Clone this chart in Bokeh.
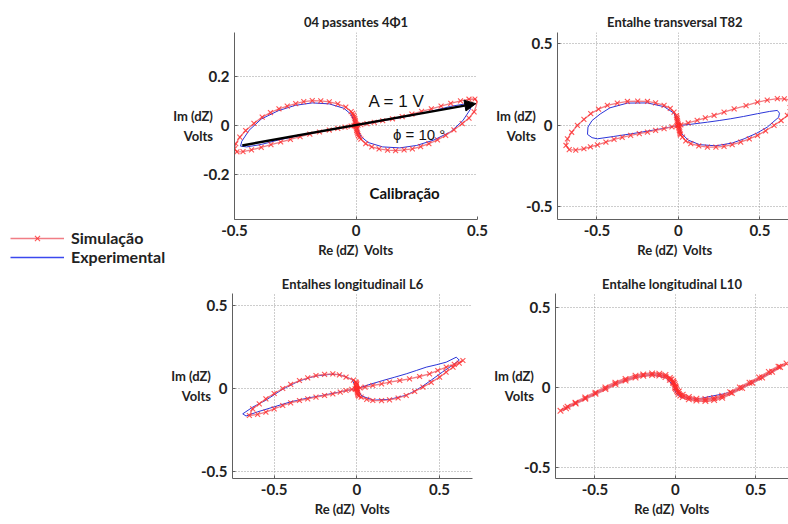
from bokeh.plotting import figure
from bokeh.layouts import row, column, Spacer
from bokeh.models import Legend, LegendItem, Arrow, NormalHead, Label, FixedTicker, Range1d
from bokeh.embed import file_html
from bokeh.resources import INLINE

# ---------------- data ----------------
titles = ["04 passantes 4\u03a61", "Entalhe transversal T82",
          "Entalhes longitudinail L6", "Entalhe longitudinal L10"]
x_label = "Re (dZ)\u00a0 Volts"
y_label = "Im (dZ)\nVolts"
x_ticks = [-0.5, 0, 0.5]
x_tick_labels = ["-0.5", "0", "0.5"]
y_ticks_cal = [-0.2, 0, 0.2]
y_tick_labels_cal = ["-0.2", "0", "0.2"]
y_ticks = [-0.5, 0, 0.5]
y_tick_labels = ["-0.5", "0", "0.5"]

# panel 1 : calibration (04 passantes)
sim1_re = [0.0, -0.001, -0.002, -0.003, -0.005, -0.007, -0.01, -0.014, -0.02, -0.042, -0.075, -0.11,
           -0.145, -0.18, -0.215, -0.248, -0.283, -0.317, -0.352, -0.386, -0.42, -0.454, -0.478, -0.495,
           -0.5, -0.49, -0.465, -0.43, -0.39, -0.35, -0.31, -0.27, -0.23, -0.19, -0.15, -0.11, -0.075,
           -0.045, -0.02, -0.008, 0.0,
           0.001, 0.002, 0.003, 0.005, 0.007, 0.01, 0.014, 0.02, 0.04, 0.065, 0.095, 0.13, 0.163, 0.198,
           0.232, 0.266, 0.3, 0.335, 0.369, 0.403, 0.437, 0.465, 0.486, 0.5, 0.49, 0.465, 0.43, 0.39, 0.35,
           0.31, 0.27, 0.23, 0.19, 0.15, 0.11, 0.075, 0.045, 0.02, 0.008, 0.0]
sim1_im = [0.0, 0.007, 0.014, 0.021, 0.028, 0.035, 0.042, 0.049, 0.056, 0.075, 0.088, 0.096,
           0.1, 0.101, 0.097, 0.089, 0.079, 0.068, 0.052, 0.034, 0.008, -0.021, -0.048, -0.075,
           -0.096, -0.108, -0.107, -0.1, -0.09, -0.079, -0.068, -0.057, -0.046, -0.036, -0.027, -0.019,
           -0.012, -0.007, -0.003, -0.001, 0.0,
           -0.007, -0.014, -0.021, -0.028, -0.035, -0.042, -0.049, -0.056, -0.075, -0.088, -0.096, -0.101,
           -0.103, -0.1, -0.096, -0.087, -0.075, -0.059, -0.041, -0.018, 0.007, 0.03, 0.055, 0.096, 0.108,
           0.107, 0.1, 0.09, 0.079, 0.068, 0.057, 0.046, 0.036, 0.027, 0.019, 0.012, 0.007, 0.003, 0.001, 0.0]
exp1_re = [0.0, -0.02, -0.05, -0.11, -0.18, -0.25, -0.32, -0.39, -0.44, -0.47, -0.475, -0.45, -0.39,
           -0.32, -0.25, -0.18, -0.11, -0.05, 0.0, 0.02, 0.05, 0.11, 0.18, 0.25, 0.32, 0.39, 0.44, 0.47,
           0.475, 0.45, 0.39, 0.32, 0.25, 0.18, 0.11, 0.05, 0.0]
exp1_im = [0.0, 0.045, 0.07, 0.088, 0.092, 0.082, 0.06, 0.026, -0.02, -0.065, -0.085, -0.088, -0.078,
           -0.06, -0.045, -0.031, -0.019, -0.008, 0.0, -0.045, -0.07, -0.088, -0.092, -0.082, -0.06, -0.026,
           0.02, 0.065, 0.085, 0.088, 0.078, 0.06, 0.045, 0.031, 0.019, 0.008, 0.0]

# panel 2 : transversal notch T82
sim2_re = [0.0, -0.002, -0.004, -0.006, -0.008, -0.01, -0.012, -0.027, -0.05, -0.088, -0.14, -0.19,
           -0.25, -0.313, -0.375, -0.436, -0.49, -0.538, -0.58, -0.62, -0.655, -0.681, -0.69, -0.67, -0.63,
           -0.58, -0.54, -0.497, -0.445, -0.395, -0.345, -0.293, -0.24, -0.19, -0.14, -0.088, -0.04, -0.01,
           0.0,
           0.002, 0.004, 0.006, 0.008, 0.01, 0.012, 0.025, 0.045, 0.076, 0.125, 0.178, 0.23, 0.28, 0.33,
           0.382, 0.435, 0.485, 0.535, 0.587, 0.63, 0.669, 0.685, 0.689, 0.65, 0.607, 0.545, 0.485, 0.415,
           0.342, 0.28, 0.219, 0.165, 0.115, 0.06, 0.015, 0.0]
sim2_im = [0.0, 0.01, 0.02, 0.03, 0.04, 0.05, 0.06, 0.082, 0.105, 0.123, 0.138, 0.147,
           0.149, 0.147, 0.137, 0.123, 0.1, 0.072, 0.037, 0.0, -0.042, -0.082, -0.123, -0.148, -0.152,
           -0.143, -0.131, -0.119, -0.102, -0.086, -0.073, -0.061, -0.05, -0.041, -0.03, -0.02, -0.009,
           -0.003, 0.0,
           -0.01, -0.02, -0.03, -0.04, -0.05, -0.058, -0.072, -0.095, -0.112, -0.126, -0.133, -0.133, -0.129,
           -0.118, -0.102, -0.083, -0.061, -0.033, 0.0, 0.03, 0.061, 0.11, 0.153, 0.163, 0.164, 0.155, 0.143,
           0.122, 0.102, 0.082, 0.061, 0.046, 0.031, 0.015, 0.004, 0.0]
exp2_re = [0.0, -0.027, -0.088, -0.19, -0.313, -0.42, -0.48, -0.53, -0.555, -0.558, -0.53, -0.497,
           -0.4, -0.293, -0.19, -0.09, 0.0, 0.06, 0.178, 0.25, 0.321, 0.4, 0.485, 0.56, 0.607, 0.62, 0.615,
           0.58, 0.546, 0.48, 0.403, 0.33, 0.23, 0.13, 0.06, 0.02, 0.0]
exp2_im = [0.0, 0.075, 0.115, 0.138, 0.137, 0.108, 0.07, 0.03, -0.01, -0.055, -0.075, -0.082,
           -0.068, -0.052, -0.035, -0.018, 0.0, 0.005, 0.02, 0.03, 0.041, 0.055, 0.072, 0.086, 0.092, 0.075,
           0.05, 0.02, -0.01, -0.048, -0.082, -0.108, -0.125, -0.118, -0.09, -0.05, 0.0]

# panel 3 : longitudinal notches L6
sim3_re = [0.0, -0.002, -0.003, -0.002, 0.0, -0.003, -0.006, -0.02, -0.065, -0.105, -0.145, -0.195,
           -0.247, -0.297, -0.347, -0.4, -0.448, -0.5, -0.55, -0.59, -0.63, -0.65, -0.6, -0.55, -0.5,
           -0.448, -0.4, -0.347, -0.297, -0.247, -0.195, -0.145, -0.1, -0.065, -0.03, -0.01, 0.0,
           0.002, 0.003, 0.004, 0.005, 0.008, 0.012, 0.026, 0.06, 0.097, 0.15, 0.198, 0.25, 0.299, 0.35,
           0.4, 0.45, 0.501, 0.54, 0.582, 0.62, 0.642, 0.59, 0.541, 0.49, 0.44, 0.38, 0.319, 0.26, 0.198,
           0.15, 0.097, 0.05, 0.02, 0.0]
sim3_im = [0.0, 0.008, 0.015, 0.022, 0.028, 0.034, 0.04, 0.05, 0.068, 0.082, 0.088, 0.085,
           0.078, 0.064, 0.048, 0.025, 0.0, -0.03, -0.062, -0.092, -0.122, -0.162, -0.155, -0.142, -0.122,
           -0.102, -0.086, -0.072, -0.062, -0.052, -0.042, -0.032, -0.022, -0.012, -0.005, -0.002, 0.0,
           -0.008, -0.016, -0.024, -0.032, -0.04, -0.046, -0.052, -0.065, -0.072, -0.073, -0.068, -0.057,
           -0.042, -0.018, 0.008, 0.037, 0.068, 0.098, 0.128, 0.152, 0.168, 0.145, 0.128, 0.108, 0.088,
           0.072, 0.058, 0.048, 0.038, 0.028, 0.018, 0.008, 0.003, 0.0]
exp3_re = [0.0, 0.02, 0.08, 0.158, 0.23, 0.299, 0.36, 0.42, 0.48, 0.541, 0.602, 0.62, 0.58, 0.52, 0.45,
           0.4, 0.35, 0.3, 0.2, 0.1, 0.03, 0.0, -0.03, -0.1, -0.15, -0.25, -0.35, -0.45, -0.55, -0.63, -0.69,
           -0.67, -0.6, -0.5, -0.4, -0.3, -0.2, -0.1, 0.0]
exp3_im = [0.0, 0.005, 0.025, 0.048, 0.068, 0.088, 0.108, 0.128, 0.142, 0.158, 0.188, 0.17, 0.14, 0.1,
           0.05, 0.015, -0.015, -0.04, -0.065, -0.07, -0.045, 0.0, 0.055, 0.082, 0.086, 0.075, 0.045, -0.005,
           -0.07, -0.112, -0.152, -0.165, -0.14, -0.11, -0.08, -0.058, -0.04, -0.02, 0.0]

# panel 4 : longitudinal notch L10
sim4_re = [0.0, -0.002, -0.005, -0.01, -0.015, -0.025, -0.035, -0.062, -0.1, -0.145, -0.2, -0.248,
           -0.31, -0.373, -0.435, -0.497, -0.56, -0.621, -0.67, -0.714, -0.68, -0.62, -0.56, -0.497,
           -0.435, -0.373, -0.31, -0.248, -0.2, -0.145, -0.1, -0.062, -0.035, -0.015, 0.0,
           0.004, 0.01, 0.015, 0.021, 0.03, 0.045, 0.083, 0.13, 0.186, 0.24, 0.29, 0.35, 0.414, 0.476,
           0.538, 0.6, 0.65, 0.69, 0.64, 0.58, 0.52, 0.46, 0.4, 0.34, 0.29, 0.24, 0.186, 0.13, 0.083, 0.045,
           0.021, 0.0]
sim4_im = [0.0, 0.01, 0.02, 0.03, 0.04, 0.05, 0.06, 0.078, 0.086, 0.088, 0.082, 0.073,
           0.053, 0.03, 0.0, -0.032, -0.063, -0.095, -0.12, -0.146, -0.13, -0.1, -0.07, -0.04, -0.01,
           0.02, 0.043, 0.062, 0.073, 0.078, 0.075, 0.065, 0.048, 0.03, 0.0,
           -0.01, -0.02, -0.03, -0.04, -0.05, -0.06, -0.074, -0.082, -0.084, -0.078, -0.064, -0.035, -0.003,
           0.03, 0.062, 0.098, 0.128, 0.15, 0.13, 0.097, 0.062, 0.03, 0.0, -0.03, -0.052, -0.066, -0.072,
           -0.07, -0.06, -0.045, -0.025, 0.0]
exp4_re = [0.0, -0.02, -0.06, -0.145, -0.248, -0.373, -0.497, -0.621, -0.7, -0.62, -0.497, -0.373,
           -0.248, -0.145, -0.06, -0.01, 0.0, 0.03, 0.083, 0.15, 0.22, 0.3, 0.38, 0.414, 0.476, 0.538, 0.6,
           0.65, 0.6, 0.5, 0.414, 0.35, 0.25, 0.15, 0.08, 0.02, 0.0]
exp4_im = [0.0, 0.05, 0.072, 0.082, 0.068, 0.025, -0.036, -0.098, -0.14, -0.1, -0.04, 0.022, 0.064,
           0.08, 0.06, 0.01, -0.03, -0.06, -0.07, -0.07, -0.055, -0.04, -0.015, 0.005, 0.035, 0.065, 0.1,
           0.13, 0.095, 0.04, -0.003, -0.035, -0.068, -0.078, -0.07, -0.04, 0.0]

# calibration annotations
arrow_start = (-0.468, -0.082)
arrow_end = (0.493, 0.089)
amp_text, amp_pos = "A = 1 V", (0.167, 0.099)
phase_text, phase_pos = "\u03d5 = 10 \u00b0", (0.26, -0.037)
cal_text, cal_pos = "Calibra\u00e7\u00e3o", (0.2, -0.277)
legend_labels = ["Simula\u00e7\u00e3o", "Experimental"]
legend_proxy = [float("nan")]   # legend samples only, nothing plotted

# ---------------- styling ----------------
FONT = "Lato"
SIM_LINE = "#ef6f78"
SIM_MARK = "#ff2a2a"
EXP_LINE = "#2b35d8"


def make_fig(fw, fh, xr, yr, yt, ytl, bl, br, bt, bb, title, title_standoff):
    p = figure(frame_width=fw, frame_height=fh, x_range=Range1d(*xr), y_range=Range1d(*yr),
               output_backend="svg", toolbar_location=None, title=title,
               min_border_left=bl, min_border_right=br, min_border_top=bt, min_border_bottom=bb)
    p.outline_line_color = None
    p.background_fill_color = "white"
    p.title.align = "center"
    p.title.text_font = FONT
    p.title.text_font_size = "13px"
    p.title.text_font_style = "bold"
    p.title.text_color = "#222222"
    p.title.standoff = title_standoff
    p.xaxis.ticker = FixedTicker(ticks=x_ticks)
    p.yaxis.ticker = FixedTicker(ticks=yt)
    p.xaxis.major_label_overrides = {t: l for t, l in zip(x_ticks, x_tick_labels)}
    p.yaxis.major_label_overrides = {t: l for t, l in zip(yt, ytl)}
    for ax in (p.xaxis, p.yaxis):
        ax.axis_line_color = "#606060"
        ax.major_tick_line_color = "#606060"
        ax.major_tick_in = 3
        ax.major_tick_out = 0
        ax.minor_tick_line_color = None
        ax.major_label_text_font = FONT
        ax.major_label_text_font_size = "15px"
        ax.major_label_text_font_style = "bold"
        ax.major_label_text_color = "#222222"
        ax.axis_label_text_font = FONT
        ax.axis_label_text_font_size = "13px"
        ax.axis_label_text_font_style = "bold"
        ax.axis_label_text_color = "#222222"
    p.xaxis.major_label_standoff = 5
    p.yaxis.major_label_standoff = 5
    p.xaxis.axis_label = x_label
    p.xaxis.axis_label_standoff = 3
    p.yaxis.axis_label = y_label
    p.yaxis.axis_label_orientation = "horizontal"
    p.yaxis.axis_label_standoff = -13
    for g in (p.xgrid, p.ygrid):
        g.grid_line_color = "#9a9a9a"
        g.grid_line_dash = "1 2"
        g.grid_line_width = 1
    return p


def draw(p, sx, sy, ex, ey, lw=1.3, ms=7):
    r_exp = p.line(ex, ey, line_color=EXP_LINE, line_width=1)
    r_sim = p.line(sx, sy, line_color=SIM_LINE, line_width=lw, line_alpha=0.9)
    r_mk = p.scatter(sx, sy, marker="x", size=ms, line_color=SIM_MARK, line_alpha=0.8, line_width=1.1)
    return r_sim, r_mk, r_exp


# top row (page has no margin: absolute pixel coords)
p1 = make_fig(243, 187, (-0.5, 0.5), (-0.385, 0.38), y_ticks_cal, y_tick_labels_cal,
              60, 12, 32, 47, titles[0], 6)
p2 = make_fig(235, 187, (-0.742, 0.70), (-0.577, 0.57), y_ticks, y_tick_labels,
              68, 0, 32, 47, titles[1], 6)
# bottom row
p3 = make_fig(240, 185, (-0.752, 0.70), (-0.54, 0.57), y_ticks, y_tick_labels,
              232, 15, 27, 46, titles[2], 3)
p4 = make_fig(233, 185, (-0.745, 0.702), (-0.569, 0.5875), y_ticks, y_tick_labels,
              68, 0, 27, 46, titles[3], 3)

draw(p1, sim1_re, sim1_im, exp1_re, exp1_im)
draw(p2, sim2_re, sim2_im, exp2_re, exp2_im)
draw(p3, sim3_re, sim3_im, exp3_re, exp3_im)
draw(p4, sim4_re, sim4_im, exp4_re, exp4_im, lw=2.5, ms=8)

p1.add_layout(Arrow(end=NormalHead(size=11, fill_color="black", line_color="black"),
                    x_start=arrow_start[0], y_start=arrow_start[1],
                    x_end=arrow_end[0], y_end=arrow_end[1],
                    line_color="black", line_width=2.5))
for txt, pos, font, size, style in [(amp_text, amp_pos, "Liberation Sans", "17px", "normal"),
                                     (phase_text, phase_pos, "Liberation Sans", "15px", "normal"),
                                     (cal_text, cal_pos, FONT, "15px", "bold")]:
    p1.add_layout(Label(x=pos[0], y=pos[1], text=txt, text_align="center", text_baseline="middle",
                        text_font=font, text_font_size=size, text_font_style=style,
                        text_color="#111111"))

# legend in its own small figure, left of the calibration panel
pl = figure(width=170, height=40, x_range=Range1d(0, 1), y_range=Range1d(0, 1),
            output_backend="svg", toolbar_location=None,
            x_axis_location=None, y_axis_location=None,
            min_border=0, min_border_left=0, min_border_right=0, min_border_top=0, min_border_bottom=0)
pl.outline_line_color = None
pl.xgrid.visible = False
pl.ygrid.visible = False
lg_sim = pl.line(legend_proxy, legend_proxy, line_color=SIM_LINE, line_width=1.3, line_alpha=0.9)
lg_mk = pl.scatter(legend_proxy, legend_proxy, marker="x", size=7, line_color=SIM_MARK,
                   line_alpha=0.8, line_width=1.1)
lg_exp = pl.line(legend_proxy, legend_proxy, line_color="#3b48ee", line_width=1.4)
legend = Legend(items=[LegendItem(label=legend_labels[0], renderers=[lg_sim, lg_mk]),
                       LegendItem(label=legend_labels[1], renderers=[lg_exp])],
                location=(10, 0), padding=0, margin=0, spacing=0,
                border_line_color=None, background_fill_alpha=0,
                glyph_width=54, glyph_height=18, label_height=18, label_standoff=7,
                label_text_font=FONT, label_text_font_size="16px", label_text_font_style="bold",
                label_text_color="#222222")
pl.add_layout(legend)

left_col = column(Spacer(width=170, height=226), pl)
layout = column(row(left_col, p1, p2), row(p3, p4))
open("out.html", "w").write(file_html(layout, INLINE))
